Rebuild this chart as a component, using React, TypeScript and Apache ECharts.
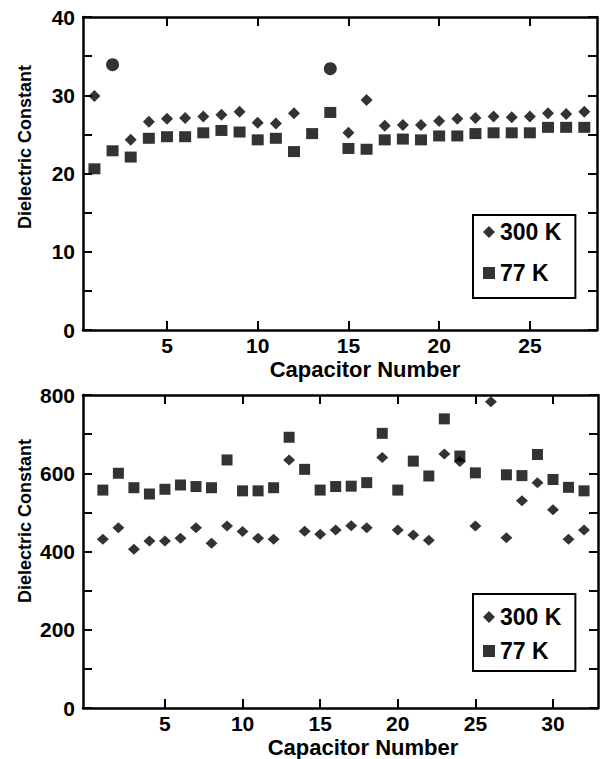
import React, { useEffect, useRef } from "react";
import * as echarts from "echarts";

// ---- Data ----
const topCapacitors = [1, 2, 3, 4, 5, 6, 7, 8, 9, 10, 11, 12, 13, 14, 15, 16, 17, 18, 19, 20, 21, 22, 23, 24, 25, 26, 27, 28];
const top300K = [29.9, 33.9, 24.3, 26.6, 27.0, 27.1, 27.3, 27.5, 27.9, 26.5, 26.4, 27.7, null, 33.4, 25.2, 29.4, 26.1, 26.2, 26.2, 26.7, 27.0, 27.1, 27.3, 27.2, 27.3, 27.7, 27.6, 27.9];
const top77K = [20.6, 22.9, 22.1, 24.5, 24.7, 24.7, 25.2, 25.5, 25.3, 24.3, 24.5, 22.8, 25.1, 27.8, 23.2, 23.1, 24.3, 24.4, 24.3, 24.8, 24.8, 25.1, 25.2, 25.2, 25.2, 25.9, 25.9, 25.9];
const top300KCircleCapacitors = [2, 14];

const bottomCapacitors = [1, 2, 3, 4, 5, 6, 7, 8, 9, 10, 11, 12, 13, 14, 15, 16, 17, 18, 19, 20, 21, 22, 23, 24, 25, 26, 27, 28, 29, 30, 31, 32];
const bottom300K = [431, 461, 406, 427, 427, 434, 461, 421, 465, 451, 434, 431, 634, 452, 444, 455, 466, 461, 640, 455, 442, 429, 649, 630, 465, 783, 435, 530, 576, 507, 431, 455];
const bottom77K = [557, 600, 563, 547, 559, 570, 566, 563, 634, 555, 555, 563, 692, 610, 557, 566, 567, 576, 702, 557, 631, 593, 739, 644, 601, null, 596, 594, 648, 584, 564, 555];

const topXTicks = [5, 10, 15, 20, 25];
const bottomXTicks = [5, 10, 15, 20, 25, 30];

const seriesNames = ["300 K", "77 K"];
const xTitle = "Capacitor Number";
const yTitle = "Dielectric Constant";

const FONT = "'Liberation Sans', Arial, Helvetica, sans-serif";

function pairs(xs: number[], ys: (number | null)[]) {
  const out: any[] = [];
  xs.forEach((x, i) => {
    const y = ys[i];
    if (y !== null && y !== undefined) out.push([x, y]);
  });
  return out;
}

export default function App() {
  const ref = useRef<HTMLDivElement>(null);

  useEffect(() => {
    if (!ref.current) return;
    const chart = echarts.init(ref.current, null, { renderer: "svg" });

    const axisLine = { show: true, onZero: false, lineStyle: { color: "#000", width: 2.5 } };
    const tickStyle = { color: "#000", width: 2 };
    const labelStyle = { color: "#000", fontSize: 21, fontWeight: "bold", lineHeight: 22, fontFamily: FONT };

    const makeX = (gridIndex: number, min: number, max: number, ticks: number[], position: string, showLabel: boolean) => ({
      type: "value",
      gridIndex,
      position,
      min,
      max,
      axisLine,
      axisTick: { show: true, inside: true, length: 9, lineStyle: tickStyle, customValues: ticks },
      axisLabel: { show: showLabel, ...labelStyle, margin: 4, customValues: ticks },
      splitLine: { show: false },
    });

    const makeY = (gridIndex: number, max: number, interval: number, labelEvery: number, position: string, showLabel: boolean) => ({
      type: "value",
      gridIndex,
      position,
      min: 0,
      max,
      interval,
      axisLine,
      axisTick: { show: true, inside: true, length: 9, lineStyle: tickStyle },
      axisLabel: {
        show: showLabel,
        ...labelStyle,
        margin: 8,
        formatter: (v: number) => (Math.round(v) % labelEvery === 0 ? String(Math.round(v)) : ""),
      },
      splitLine: { show: false },
    });

    const top300KData = pairs(topCapacitors, top300K).map((p) =>
      top300KCircleCapacitors.includes(p[0])
        ? { value: p, symbol: "circle", symbolSize: 13 }
        : { value: p }
    );

    const legendBase = {
      orient: "vertical",
      left: 473,
      itemWidth: 12,
      itemHeight: 12,
      itemTextGap: 7,
      borderColor: "#000",
      borderWidth: 2,
      borderRadius: 0,
      backgroundColor: "#fff",
      textStyle: { color: "#000", fontSize: 23, fontWeight: "bold", fontFamily: FONT, lineHeight: 24 },
      data: [
        { name: seriesNames[0], icon: "diamond" },
        { name: seriesNames[1], icon: "rect" },
      ],
      selectedMode: false,
    };

    const titleStyle = { fontFamily: FONT, fontWeight: "bold", fill: "#000", align: "center", verticalAlign: "middle" };

    const option: any = {
      animation: false,
      backgroundColor: "#fff",
      grid: [
        { left: 83, top: 17, width: 514, height: 313 },
        { left: 83, top: 395, width: 515, height: 313 },
      ],
      xAxis: [
        makeX(0, 0.37, 28.7, topXTicks, "bottom", true),
        makeX(0, 0.37, 28.7, topXTicks, "top", false),
        makeX(1, -0.28, 32.9, bottomXTicks, "bottom", true),
        makeX(1, -0.28, 32.9, bottomXTicks, "top", false),
      ],
      yAxis: [
        makeY(0, 40, 5, 10, "left", true),
        makeY(0, 40, 5, 10, "right", false),
        makeY(1, 800, 100, 200, "left", true),
        makeY(1, 800, 100, 200, "right", false),
      ],
      legend: [
        { ...legendBase, top: 215, padding: [5, 14, 13, 10], itemGap: 17 },
        { ...legendBase, top: 594, padding: [11, 14, 8, 10], itemGap: 10 },
      ],
      series: [
        {
          name: seriesNames[0],
          type: "scatter",
          xAxisIndex: 0,
          yAxisIndex: 0,
          symbol: "diamond",
          symbolSize: [12, 12],
          itemStyle: { color: "#000" },
          data: top300KData,
        },
        {
          name: seriesNames[1],
          type: "scatter",
          xAxisIndex: 0,
          yAxisIndex: 0,
          symbol: "rect",
          symbolSize: [12, 11],
          itemStyle: { color: "#000" },
          data: pairs(topCapacitors, top77K),
        },
        {
          name: seriesNames[0],
          type: "scatter",
          xAxisIndex: 2,
          yAxisIndex: 2,
          symbol: "diamond",
          symbolSize: [12, 11],
          itemStyle: { color: "#000" },
          data: pairs(bottomCapacitors, bottom300K),
        },
        {
          name: seriesNames[1],
          type: "scatter",
          xAxisIndex: 2,
          yAxisIndex: 2,
          symbol: "rect",
          symbolSize: [11, 11],
          itemStyle: { color: "#000" },
          data: pairs(bottomCapacitors, bottom77K),
        },
      ],
      graphic: [
        {
          type: "text",
          x: 25,
          y: 147,
          rotation: Math.PI / 2,
          style: { ...titleStyle, text: yTitle, fontSize: 18, lineHeight: 20 },
        },
        {
          type: "text",
          x: 25,
          y: 521,
          rotation: Math.PI / 2,
          style: { ...titleStyle, text: yTitle, fontSize: 18, lineHeight: 20 },
        },
        {
          type: "text",
          x: 365,
          y: 369,
          style: { ...titleStyle, text: xTitle, fontSize: 22, lineHeight: 22 },
        },
        {
          type: "text",
          x: 363,
          y: 747,
          style: { ...titleStyle, text: xTitle, fontSize: 22, lineHeight: 22 },
        },
      ],
    };

    chart.setOption(option);
    return () => chart.dispose();
  }, []);

  return (
    <div
      ref={ref}
      style={{ position: "absolute", left: 0, top: 0, width: 602, height: 759, background: "#fff" }}
    />
  );
}
